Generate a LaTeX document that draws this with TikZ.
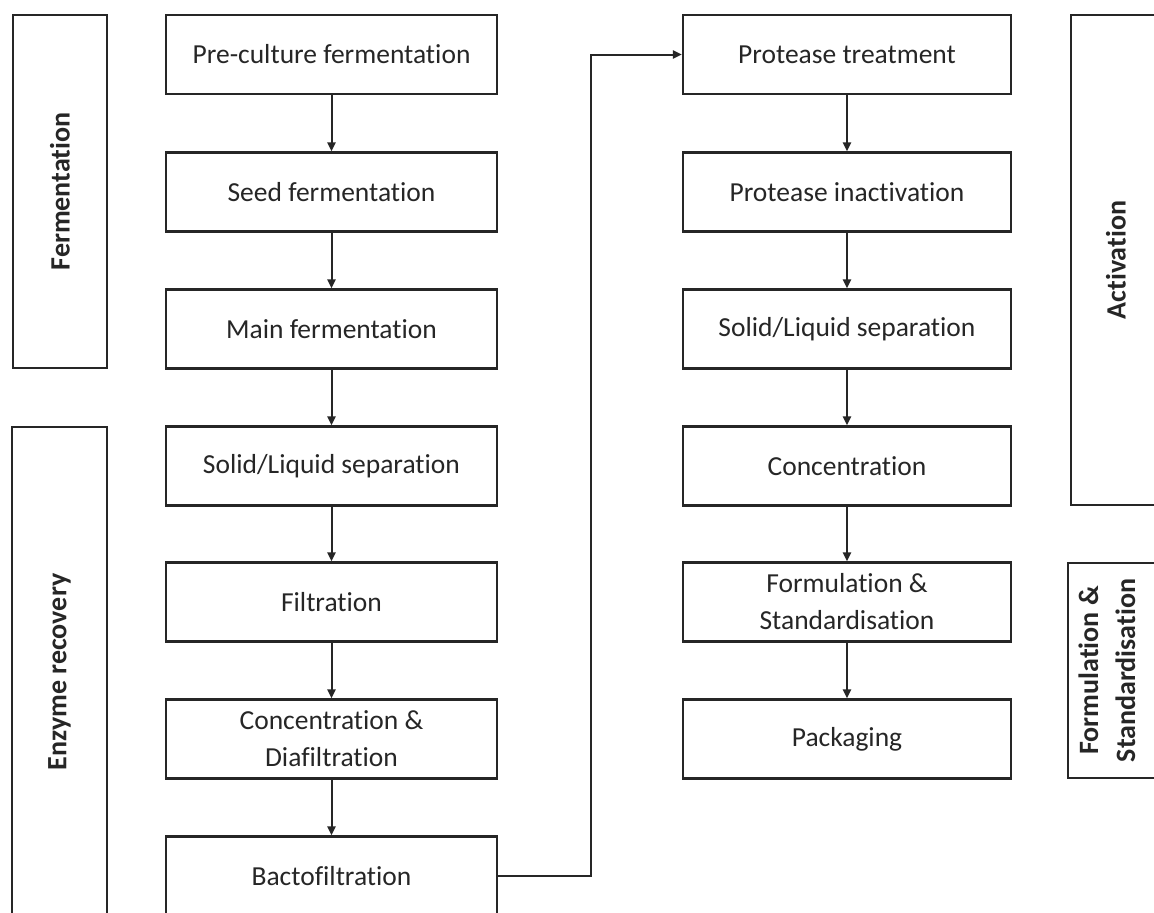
\documentclass[tikz,border=0pt]{standalone}
\usepackage{fontspec}
\setmainfont{Carlito}[Ligatures=NoCommon]
\usetikzlibrary{arrows.meta}
\definecolor{ink}{HTML}{262626}
\tikzset{
  stepbox/.style={draw=ink, line width=2.2pt, minimum width=331pt, minimum height=79pt,
    inner sep=0pt, align=center, font=\fontsize{27.5}{37}\selectfont, text=ink},
  phase/.style={draw=ink, line width=2.2pt, inner sep=0pt, text=ink},
  phaselabel/.style={rotate=90, align=center, font=\bfseries\fontsize{28}{37}\selectfont, text=ink},
  flow/.style={draw=ink, line width=2pt, -{Triangle[length=9pt,width=8pt]}}
}
\begin{document}
\begin{tikzpicture}[x=1pt,y=-1pt]
\useasboundingbox (0,0) rectangle (1154,913);
\clip (0,0) rectangle (1154,913);
\fill[white] (0,0) rectangle (1154,913);

% phase frames
\node[phase, minimum width=94pt, minimum height=353pt] (fermphase) at (60,191.5) {};
\node[phaselabel] at (fermphase.center) {Fermentation};
\node[phase, minimum width=95pt, minimum height=490pt] (recphase) at (59.5,672) {};
\node[phaselabel] at (recphase.center) {Enzyme recovery};
\node[phase, minimum width=94pt, minimum height=490pt] (actphase) at (1118,260) {};
\node[phaselabel] at ([xshift=-2pt]actphase.center) {Activation};
\node[phase, minimum width=94pt, minimum height=215pt] (formphase) at (1115,670.5) {};
\node[phaselabel] at ([xshift=-8pt]formphase.center) {Formulation \&\\Standardisation};

% first column
\node[stepbox] (pre)   at (331.5,54.5) {Pre-culture fermentation};
\node[stepbox] (seed)  at (331.5,192)  {Seed fermentation};
\node[stepbox] (main)  at (331.5,329)  {Main fermentation};
\node[stepbox] (sl1)   at (331.5,466)  {Solid/Liquid separation};
\node[stepbox] (filt)  at (331.5,602)  {Filtration};
\node[stepbox] (diaf)  at (331.5,739)  {Concentration \&\\Diafiltration};
\node[stepbox] (bacto) at (331.5,876)  {Bactofiltration};

% second column
\node[stepbox, minimum width=328pt] (prot)  at (847,54.5) {Protease treatment};
\node[stepbox, minimum width=328pt] (inact) at (847,192)  {Protease inactivation};
\node[stepbox, minimum width=328pt] (sl2)   at (847,329)  {Solid/Liquid separation};
\node[stepbox, minimum width=328pt] (conc)  at (847,466)  {Concentration};
\node[stepbox, minimum width=328pt] (form)  at (847,602)  {Formulation \&\\Standardisation};
\node[stepbox, minimum width=328pt] (pack)  at (847,739)  {Packaging};

% connectors
\draw[flow] (pre) -- (seed);
\draw[flow] (seed) -- (main);
\draw[flow] (main) -- (sl1);
\draw[flow] (sl1) -- (filt);
\draw[flow] (filt) -- (diaf);
\draw[flow] (diaf) -- (bacto);
\coordinate (turn) at (591,0);
\draw[flow] (bacto.east) -- (bacto.east -| turn) -- (prot.west -| turn) -- (prot.west);
\draw[flow] (prot) -- (inact);
\draw[flow] (inact) -- (sl2);
\draw[flow] (sl2) -- (conc);
\draw[flow] (conc) -- (form);
\draw[flow] (form) -- (pack);
\end{tikzpicture}
\end{document}
